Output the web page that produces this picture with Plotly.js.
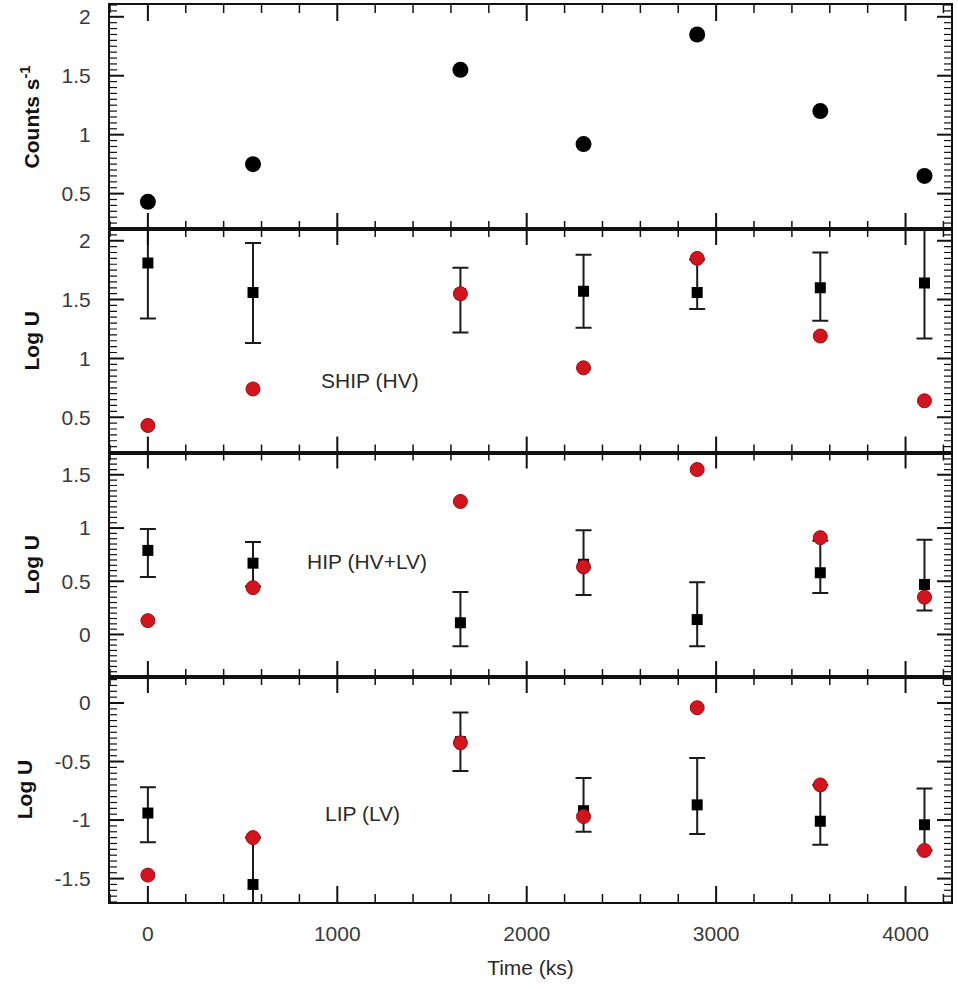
<!DOCTYPE html>
<html><head><meta charset="utf-8">
<script src="https://cdn.plot.ly/plotly-3.0.1.min.js"></script>
<style>html,body{margin:0;padding:0;background:#fff}</style>
</head><body><div id="chart" style="width:958px;height:989px"></div>
<script>
// Observation times (ks)
const time = [0, 555, 1650, 2300, 2900, 3550, 4100];
// Top panel: count rate
const counts = [0.43, 0.75, 1.55, 0.92, 1.85, 1.20, 0.65];
// SHIP (HV)
const shipLogU = [1.81, 1.56, 1.55, 1.57, 1.56, 1.60, 1.64];
const shipErrPlus = [0.47, 0.42, 0.22, 0.31, 0.28, 0.30, 0.47];
const shipErrMinus = [0.47, 0.43, 0.33, 0.31, 0.14, 0.28, 0.47];
const shipRed = [0.43, 0.74, 1.55, 0.92, 1.85, 1.19, 0.64];
// HIP (HV+LV)
const hipLogU = [0.79, 0.67, 0.11, 0.66, 0.14, 0.58, 0.47];
const hipErrPlus = [0.20, 0.20, 0.29, 0.32, 0.35, 0.30, 0.42];
const hipErrMinus = [0.25, 0.22, 0.22, 0.29, 0.25, 0.19, 0.245];
const hipRed = [0.13, 0.44, 1.25, 0.635, 1.55, 0.91, 0.35];
// LIP (LV)
const lipLogU = [-0.94, -1.55, -0.33, -0.92, -0.87, -1.01, -1.04];
const lipErrPlus = [0.22, 0.40, 0.25, 0.28, 0.40, 0.31, 0.31];
const lipErrMinus = [0.25, 0.40, 0.25, 0.18, 0.25, 0.20, 0.22];
const lipRed = [-1.47, -1.15, -0.34, -0.97, -0.04, -0.70, -1.26];
// Labels
const panelLabels = ['SHIP (HV)', 'HIP (HV+LV)', 'LIP (LV)'];
const xTickVals = [0, 1000, 2000, 3000, 4000];
const lipTickVals = [-1.5, -1, -0.5, 0];
const lipTickText = ['-1.5', '-1', '-0.5', '0'];

const INK = '#111';
const RED = '#d3141c';
const FONT = 'Liberation Sans, Arial, sans-serif';

function errCfg(p, m) {
  return {type:'data', symmetric:false, array:p, arrayminus:m, color:'#1a1a1a', thickness:2, width:8};
}
const squareMarker = {symbol:'square', size:11, color:'#000'};
const redMarker = {symbol:'circle', size:14, color:RED, line:{color:'#9a0d12', width:1}};

const traces = [
  {x:time, y:counts, xaxis:'x', yaxis:'y', mode:'markers', type:'scatter',
   marker:{symbol:'circle', size:16, color:'#000'}},
  {x:time, y:shipLogU, xaxis:'x2', yaxis:'y2', mode:'markers', type:'scatter',
   marker:squareMarker, error_y:errCfg(shipErrPlus, shipErrMinus)},
  {x:time, y:shipRed, xaxis:'x2', yaxis:'y2', mode:'markers', type:'scatter', marker:redMarker},
  {x:time, y:hipLogU, xaxis:'x3', yaxis:'y3', mode:'markers', type:'scatter',
   marker:squareMarker, error_y:errCfg(hipErrPlus, hipErrMinus)},
  {x:time, y:hipRed, xaxis:'x3', yaxis:'y3', mode:'markers', type:'scatter', marker:redMarker},
  {x:time, y:lipLogU, xaxis:'x4', yaxis:'y4', mode:'markers', type:'scatter',
   marker:squareMarker, error_y:errCfg(lipErrPlus, lipErrMinus)},
  {x:time, y:lipRed, xaxis:'x4', yaxis:'y4', mode:'markers', type:'scatter', marker:redMarker}
];

const X_RANGE = [-200, 4240];
const PLOT_W = 958 - 110 - 7, PLOT_H = 989 - 5 - 87;

function xax(anchor, labels) {
  const a = {
    anchor:anchor, domain:[0,1], range:X_RANGE,
    showline:true, linewidth:2, linecolor:INK, mirror:true,
    ticks:'', tickmode:'array', tickvals:xTickVals,
    showgrid:false, zeroline:false, showticklabels:labels,
    tickfont:{family:FONT, size:21, color:'#3a3a3a'}, ticklabelstandoff:12
  };
  if (labels) a.title = {text:'Time (ks)', font:{family:FONT, size:21, color:'#2a2a2a'}, standoff:16};
  return a;
}
function yax(anchor, domain, range, title) {
  return {
    anchor:anchor, domain:domain, range:range,
    showline:true, linewidth:2, linecolor:INK, mirror:true,
    ticks:'', tickmode:'linear', dtick:0.5, tick0:0,
    showgrid:false, zeroline:false,
    tickfont:{family:FONT, size:21, color:'#3a3a3a'}, ticklabelstandoff:13,
    title:{text:title, font:{family:FONT, size:21, color:'#111', weight:'bold'}, standoff:16}
  };
}

const d1 = 0.2508, d2 = 0.5011, d3 = 0.7503;
const yDomains = [[d3, 1], [d2, d3], [d1, d2], [0, d1]];
const yRanges = [[0.2, 2.1], [0.2, 2.1], [-0.4, 1.71], [-1.70, 0.222]];
const y4 = yax('x4', yDomains[3], yRanges[3], 'Log U');
y4.tickmode = 'array'; y4.tickvals = lipTickVals; y4.ticktext = lipTickText;

// Inside tick marks on all four sides of every panel, placed through the axes.
const shapes = [];
function tickLine(xref, yref, x0, x1, y0, y1, w) {
  shapes.push({type:'line', layer:'above', xref:xref, yref:yref, x0:x0, x1:x1, y0:y0, y1:y1,
               line:{color:INK, width:w}});
}
for (let k = 0; k < 4; k++) {
  const sfx = k === 0 ? '' : String(k + 1);
  const xr = 'x' + sfx, yr = 'y' + sfx;
  const H = (yDomains[k][1] - yDomains[k][0]) * PLOT_H;
  // x ticks (major every 1000, minor every 200)
  for (let i = Math.ceil(X_RANGE[0] / 200); i * 200 <= X_RANGE[1]; i++) {
    const major = i % 5 === 0;
    const len = (major ? 16 : 8) / H, w = major ? 2 : 1.5;
    tickLine(xr, yr + ' domain', i * 200, i * 200, 0, len, w);
    tickLine(xr, yr + ' domain', i * 200, i * 200, 1, 1 - len, w);
  }
  // y ticks (major every 0.5, minor every 0.05)
  const r = yRanges[k];
  for (let j = Math.ceil(r[0] / 0.05 - 1e-9); j * 0.05 <= r[1] + 1e-9; j++) {
    const v = Math.round(j * 5) / 100;
    const major = j % 10 === 0;
    const len = (major ? 14 : 7) / PLOT_W, w = major ? 2 : 1.2;
    tickLine(xr + ' domain', yr, 0, len, v, v, w);
    tickLine(xr + ' domain', yr, 1, 1 - len, v, v, w);
  }
}

const layout = {
  width:958, height:989,
  margin:{l:110, r:7, t:5, b:87},
  paper_bgcolor:'#fff', plot_bgcolor:'#fff',
  showlegend:false,
  font:{family:FONT},
  xaxis:xax('y', false),
  xaxis2:xax('y2', false),
  xaxis3:xax('y3', false),
  xaxis4:xax('y4', true),
  yaxis:yax('x', yDomains[0], yRanges[0], 'Counts s<sup>-1</sup>'),
  yaxis2:yax('x2', yDomains[1], yRanges[1], 'Log U'),
  yaxis3:yax('x3', yDomains[2], yRanges[2], 'Log U'),
  yaxis4:y4,
  shapes:shapes,
  annotations:[
    {text:panelLabels[0], xref:'x2', yref:'y2', x:1171, y:0.81, showarrow:false,
     font:{family:FONT, size:21, color:'#2a2a2a'}},
    {text:panelLabels[1], xref:'x3', yref:'y3', x:1156, y:0.685, showarrow:false,
     font:{family:FONT, size:21, color:'#2a2a2a'}},
    {text:panelLabels[2], xref:'x4', yref:'y4', x:1135, y:-0.943, showarrow:false,
     font:{family:FONT, size:21, color:'#2a2a2a'}}
  ]
};

Plotly.newPlot('chart', traces, layout, {displayModeBar:false, staticPlot:true});
</script>
</body></html>
